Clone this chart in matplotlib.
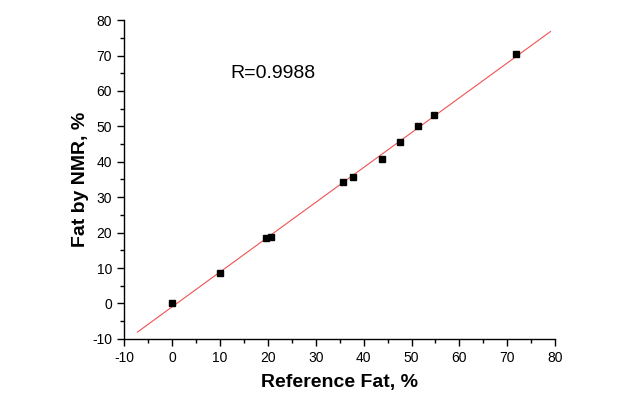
import numpy as np
import matplotlib
matplotlib.use('Agg')
import matplotlib.pyplot as plt
from matplotlib.ticker import MultipleLocator

plt.rcParams['font.family'] = ['Liberation Sans', 'DejaVu Sans']
plt.rcParams['axes.unicode_minus'] = False

# reference fat vs fat measured by NMR, %
ref_fat = [0.0, 10.0, 19.6, 20.7, 35.7, 37.8, 43.9, 47.6, 51.4, 54.7, 71.8]
nmr_fat = [0.0, 8.6, 18.5, 18.8, 34.3, 35.7, 40.8, 45.6, 50.1, 53.2, 70.4]
r_label = 'R=0.9988'
fit_range = [-7.2, 79.0]

slope, intercept = np.polyfit(ref_fat, nmr_fat, 1)
fit_x = np.array(fit_range)
fit_y = slope * fit_x + intercept

fig = plt.figure(figsize=(6.39, 3.94), dpi=100)
ax = fig.add_axes([0.194, 0.140, 0.675, 0.809])

ax.plot(fit_x, fit_y, color='#ee3333', lw=0.8, alpha=0.85, zorder=2)
ax.plot(ref_fat, nmr_fat, 's', color='black', ms=4.2, zorder=3)

ax.set_xlim(-10, 80)
ax.set_ylim(-10, 80)
ax.xaxis.set_major_locator(MultipleLocator(10))
ax.xaxis.set_minor_locator(MultipleLocator(5))
ax.yaxis.set_major_locator(MultipleLocator(10))
ax.yaxis.set_minor_locator(MultipleLocator(5))
ax.tick_params(which='major', direction='out', length=5, width=1, labelsize=10)
ax.tick_params(which='minor', direction='out', length=3, width=1)

for side in ['top', 'right']:
    ax.spines[side].set_visible(False)
for side in ['left', 'bottom']:
    ax.spines[side].set_linewidth(1.0)

ax.set_xlabel('Reference Fat, %', fontsize=14, fontweight='bold', labelpad=7)
ax.set_ylabel('Fat by NMR, %', fontsize=14, fontweight='bold', labelpad=2)

ax.text(12.3, 65, r_label, fontsize=14, va='center', ha='left')

fig.savefig('out.png', dpi=100)
